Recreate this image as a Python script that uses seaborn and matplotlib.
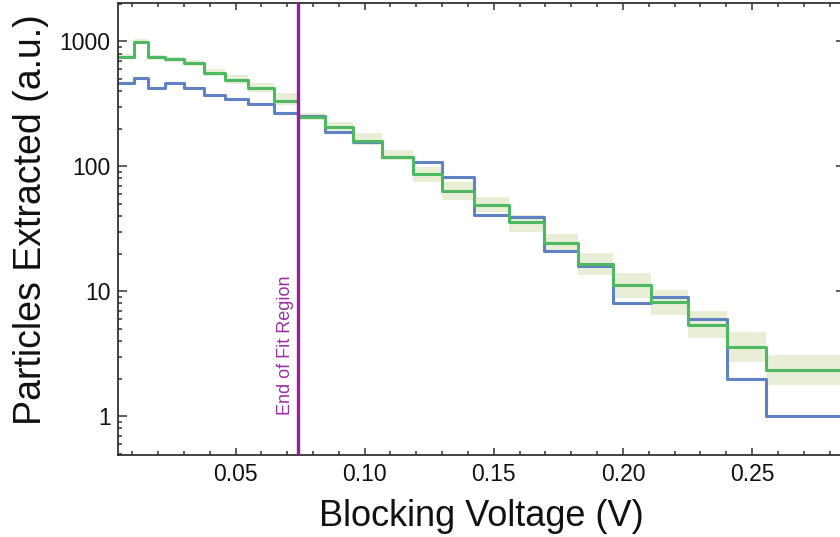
import numpy as np
import pandas as pd
import matplotlib
matplotlib.use("Agg")
import matplotlib.pyplot as plt
from matplotlib.ticker import FixedLocator, FuncFormatter, LogLocator, NullFormatter, MultipleLocator
import seaborn as sns

# Bin edges of the blocking-voltage scan (V)
bin_edges = [0.004, 0.0107, 0.0162, 0.0227, 0.0300, 0.0378, 0.0459, 0.0549,
             0.0649, 0.0743, 0.0846, 0.0955, 0.1069, 0.1186, 0.1300, 0.1424,
             0.1559, 0.1694, 0.1827, 0.1963, 0.2108, 0.2253, 0.2402, 0.2556, 0.29]

# Extracted particle counts per bin
measured = [468, 513, 427, 463, 422, 373, 346, 315, 269, 254, 187, 156, 119,
            109, 82, 41, 39, 21, 16, 8, 9, 6, 2, 1]

# Model prediction per bin with its uncertainty band
model = [755, 996, 747, 720, 676, 562, 491, 422, 336, 247, 207, 160, 118,
         87, 63, 49, 35.6, 24.2, 16.5, 11.2, 8.2, 5.35, 3.58, 2.36]
model_low = [720, 955, 715, 690, 640, 525, 457, 396, 310, 235, 189, 148, 112,
             75, 54, 43, 29.6, 21.3, 13.5, 8.9, 6.5, 4.2, 2.7, 1.79]
model_high = [790, 1040, 780, 755, 715, 600, 540, 463, 389, 266, 227, 184, 135,
              99, 75, 57, 40.7, 28.7, 20.1, 13.9, 10.2, 6.9, 4.7, 3.08]

fit_end = 0.074
x_ticks = [0.05, 0.10, 0.15, 0.20, 0.25]
y_ticks = [1, 10, 100, 1000]

sns.set_theme(style="ticks")
plt.rcParams["font.family"] = ["Liberation Sans", "DejaVu Sans"]

fig = plt.figure(figsize=(8.4, 5.37), dpi=100)
ax = fig.add_axes([117.5 / 840, 82 / 537, 727.5 / 840, 452 / 537])


def step_frame(values):
    # repeat the last value so the final bin is drawn to its right edge
    return pd.DataFrame({"V": bin_edges, "N": list(values) + [values[-1]]})


blue = "#5f82c2"
green = "#4fb863"
band = "#8fb032"

ax.fill_between(bin_edges, list(model_low) + [model_low[-1]],
                list(model_high) + [model_high[-1]], step="post",
                color=band, alpha=0.2, linewidth=0)

sns.lineplot(data=step_frame(measured), x="V", y="N", ax=ax, estimator=None,
             drawstyle="steps-post", color=blue, linewidth=2.2)
sns.lineplot(data=step_frame(model), x="V", y="N", ax=ax, estimator=None,
             drawstyle="steps-post", color=green, linewidth=2.2)

ax.axvline(fit_end, color="#9b1c9b", linewidth=2.4, zorder=5)
ax.annotate("End of Fit Region", xy=(fit_end, 0.243),
            xycoords=ax.get_xaxis_transform(), xytext=(-2.5, 0),
            textcoords="offset points", rotation=90, ha="right", va="center",
            color="#9c2fa4", fontsize=13)

ax.set_yscale("log")
ax.set_xlim(0.0043, 0.286)
ax.set_ylim(0.49, 2030)

ax.xaxis.set_major_locator(FixedLocator(x_ticks))
ax.xaxis.set_major_formatter(FuncFormatter(lambda v, p: f"{v:.2f}"))
ax.xaxis.set_minor_locator(MultipleLocator(0.01))
ax.yaxis.set_major_locator(FixedLocator(y_ticks))
ax.yaxis.set_major_formatter(FuncFormatter(lambda v, p: f"{v:g}"))
ax.yaxis.set_minor_locator(LogLocator(base=10, subs=np.arange(2, 10)))
ax.yaxis.set_minor_formatter(NullFormatter())

ax.tick_params(axis="both", which="both", direction="in", top=True, right=True,
               colors="#333333", labelcolor="#111111", labelsize=16.5, width=1.1)
ax.tick_params(axis="y", which="major", length=6.5, pad=5)
ax.tick_params(axis="y", which="minor", length=3)
ax.tick_params(axis="x", which="major", length=5, pad=6)
ax.tick_params(axis="x", which="minor", length=3)

for side in ["left", "bottom", "top", "right"]:
    ax.spines[side].set_color("#333333")
    ax.spines[side].set_linewidth(1.3)

ax.set_xlabel("Blocking Voltage (V)", fontsize=26, color="#111111")
ax.set_ylabel("Particles Extracted (a.u.)", fontsize=27, color="#111111")
ax.xaxis.set_label_coords(0.5, -0.097)
ax.yaxis.set_label_coords(-0.094, 0.52)

fig.savefig("out.png", dpi=100)
